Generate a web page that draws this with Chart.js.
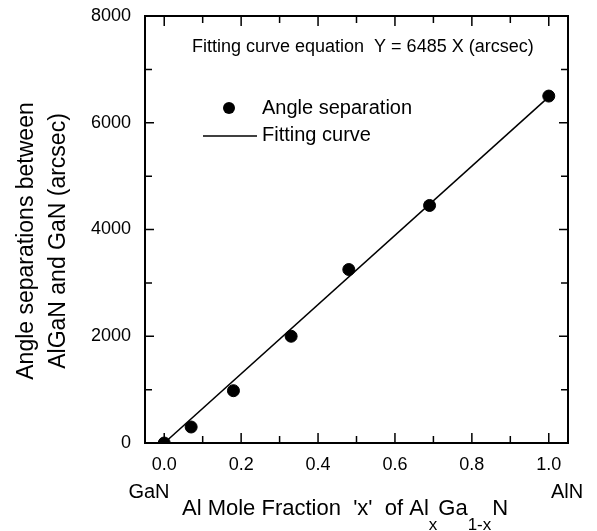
<!DOCTYPE html>
<html>
<head>
<meta charset="utf-8">
<script src="https://cdn.jsdelivr.net/npm/chart.js@4/dist/chart.umd.min.js"></script>
<style>
  html, body { margin: 0; padding: 0; background: #fff; }
  #wrap { width: 597px; height: 531px; position: relative; }
</style>
</head>
<body>
<div id="wrap"><canvas id="chart"></canvas></div>
<script>
// measured points
const moleFraction = [0.0, 0.07, 0.18, 0.33, 0.48, 0.69, 1.0];
const angleSep = [0, 300, 980, 2000, 3250, 4450, 6500];

// fitting curve Y = 6485 X, end points
const fitX = [0.0, 1.0];
const fitY = [0, 6485];

// axes
const xTicks = [0.0, 0.1, 0.2, 0.3, 0.4, 0.5, 0.6, 0.7, 0.8, 0.9, 1.0];
const xTickLabels = ['0.0', '', '0.2', '', '0.4', '', '0.6', '', '0.8', '', '1.0'];
const yTicks = [0, 1000, 2000, 3000, 4000, 5000, 6000, 7000, 8000];
const yTickLabels = ['0', '', '2000', '', '4000', '', '6000', '', '8000'];

const FONT = '"Liberation Sans", Arial, sans-serif';

// frame, inward ticks and all the extra text
const decorations = {
  id: 'decorations',
  afterDraw(chart) {
    const ctx = chart.ctx;
    const a = chart.chartArea;
    const xs = chart.scales.x, ys = chart.scales.y;
    ctx.save();
    ctx.strokeStyle = '#000';
    ctx.lineWidth = 2;
    ctx.strokeRect(a.left, a.top, a.right - a.left, a.bottom - a.top);

    ctx.lineWidth = 1.5;
    ctx.beginPath();
    xTicks.forEach((v, i) => {
      const px = xs.getPixelForValue(v);
      const len = xTickLabels[i] ? 10 : 7;
      ctx.moveTo(px, a.bottom); ctx.lineTo(px, a.bottom - len);
      ctx.moveTo(px, a.top); ctx.lineTo(px, a.top + len);
    });
    yTicks.forEach((v, i) => {
      const py = ys.getPixelForValue(v);
      const len = yTickLabels[i] ? 9 : 7;
      ctx.moveTo(a.left, py); ctx.lineTo(a.left + len, py);
      ctx.moveTo(a.right, py); ctx.lineTo(a.right - len, py);
    });
    ctx.stroke();

    ctx.fillStyle = '#000';
    ctx.textBaseline = 'middle';

    // equation
    ctx.font = '18px ' + FONT;
    ctx.textAlign = 'left';
    ctx.fillText('Fitting curve equation  Y = 6485 X (arcsec)', 192, 47);

    // legend
    ctx.font = '20px ' + FONT;
    ctx.beginPath();
    ctx.arc(229, 108, 6, 0, Math.PI * 2);
    ctx.fill();
    ctx.fillText('Angle separation', 262, 108);
    ctx.lineWidth = 1.5;
    ctx.beginPath();
    ctx.moveTo(203, 136); ctx.lineTo(257, 136);
    ctx.stroke();
    ctx.fillText('Fitting curve', 262, 135);

    // end labels
    ctx.textAlign = 'center';
    ctx.fillText('GaN', 149, 492);
    ctx.fillText('AlN', 567, 492);

    // x title with subscripts
    ctx.textAlign = 'left';
    ctx.textBaseline = 'alphabetic';
    let x = 182;
    const parts = [
      ['Al Mole Fraction  \'x\'  of Al', 22, 515],
      ['x', 17, 530],
      ['Ga', 22, 515],
      ['1-x', 17, 530],
      ['N', 22, 515]
    ];
    parts.forEach(([t, size, base]) => {
      ctx.font = size + 'px ' + FONT;
      ctx.fillText(t, x, base);
      x += ctx.measureText(t).width + (size < 20 ? 1 : 0);
    });

    // y title
    ctx.save();
    ctx.translate(0, 241);
    ctx.rotate(-Math.PI / 2);
    ctx.font = '23px ' + FONT;
    ctx.textAlign = 'center';
    ctx.textBaseline = 'alphabetic';
    ctx.fillText('Angle separations between', 0, 33);
    ctx.fillText('AlGaN and GaN (arcsec)', 0, 65);
    ctx.restore();

    ctx.restore();
  }
};

new Chart(document.getElementById('chart'), {
  type: 'scatter',
  data: {
    datasets: [
      {
        label: 'Angle separation',
        data: moleFraction.map((v, i) => ({ x: v, y: angleSep[i] })),
        pointRadius: 6,
        pointBackgroundColor: '#000',
        pointBorderColor: '#000',
        showLine: false
      },
      {
        label: 'Fitting curve',
        data: fitX.map((v, i) => ({ x: v, y: fitY[i] })),
        showLine: true,
        borderColor: '#000',
        borderWidth: 1.5,
        pointRadius: 0
      }
    ]
  },
  options: {
    responsive: true,
    maintainAspectRatio: false,
    animation: false,
    layout: { padding: { top: 16, right: 29, left: 0, bottom: 0 } },
    plugins: {
      legend: { display: false },
      tooltip: { enabled: false }
    },
    scales: {
      x: {
        type: 'linear',
        min: -0.05,
        max: 1.05,
        afterBuildTicks: (s) => { s.ticks = xTicks.map(v => ({ value: v })); },
        afterFit: (s) => { s.height = 88; s.paddingLeft = 0; s.paddingRight = 0; },
        grid: { display: false, drawTicks: false },
        border: { display: false },
        ticks: {
          autoSkip: false,
          maxRotation: 0,
          padding: 11,
          color: '#000',
          font: { family: FONT, size: 18 },
          callback: (v, i) => xTickLabels[i]
        }
      },
      y: {
        type: 'linear',
        min: 0,
        max: 8000,
        afterBuildTicks: (s) => { s.ticks = yTicks.map(v => ({ value: v })); },
        afterFit: (s) => { s.width = 145; s.paddingTop = 0; s.paddingBottom = 0; },
        grid: { display: false, drawTicks: false },
        border: { display: false },
        ticks: {
          autoSkip: false,
          padding: 14,
          color: '#000',
          font: { family: FONT, size: 18 },
          callback: (v, i) => yTickLabels[i]
        }
      }
    }
  },
  plugins: [decorations]
});
</script>
</body>
</html>
